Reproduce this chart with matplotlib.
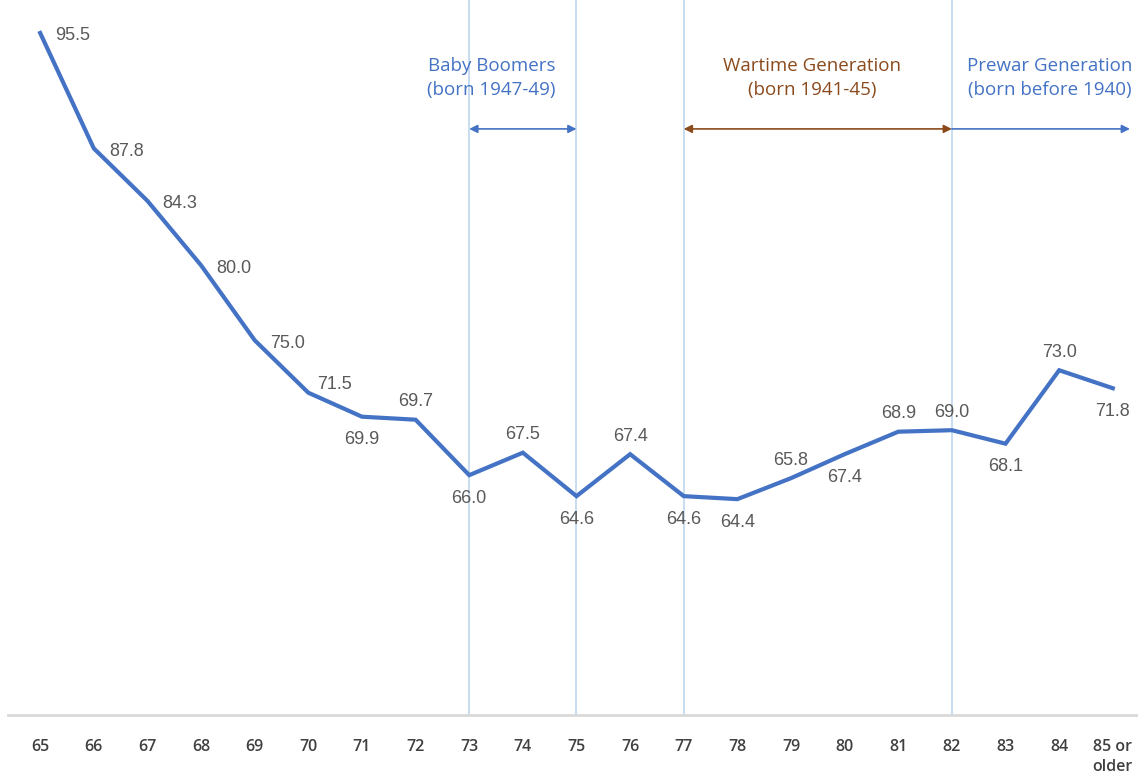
import matplotlib
matplotlib.use("Agg")
import matplotlib.pyplot as plt

categories = ["65", "66", "67", "68", "69", "70", "71", "72", "73", "74", "75",
              "76", "77", "78", "79", "80", "81", "82", "83", "84", "85 or\nolder"]
values = [95.5, 87.8, 84.3, 80.0, 75.0, 71.5, 69.9, 69.7, 66.0, 67.5, 64.6,
          67.4, 64.6, 64.4, 65.8, 67.4, 68.9, 69.0, 68.1, 73.0, 71.8]
# label placement: 'r' right, 'ra' right-above, 'a' above, 'b' below
label_pos = ["r", "r", "r", "r", "r", "ra", "b", "a", "b", "a", "b",
             "a", "b", "b", "a", "b", "a", "a", "b", "a", "b"]
divider_idx = [8, 10, 12, 17]

LINE = "#4472C4"
BROWN = "#8B4A1C"
LIGHT = "#BDD7EE"
TXT = "#595959"

fig = plt.figure(figsize=(11.38, 7.77), dpi=100)
ax = fig.add_axes([8 / 1138, 1 - 715 / 777, 1 - 8 / 1138, 715 / 777])
x = list(range(len(categories)))
ax.set_xlim(-0.6, 20.47)
ax.set_ylim(50, 97.7)

for d in divider_idx:
    ax.axvline(d, color=LIGHT, lw=1.2, zorder=1)

ax.plot(x, values, color=LINE, lw=3, zorder=3, solid_joinstyle="miter")

lab_kw = dict(textcoords="offset points", fontsize=13, color=TXT,
              family="Liberation Sans", va="center")
offsets = {"r": ((11, -2), "left"), "ra": ((6, 6), "left"),
           "a": ((0, 13), "center"), "b": ((0, -16.5), "center")}
for xi, v, p in zip(x, values, label_pos):
    off, ha = offsets[p]
    ax.annotate(f"{v:.1f}", (xi, v), xytext=off, ha=ha, **lab_kw)

arrow_y = 89.1
ax.annotate("", xy=(8, arrow_y), xytext=(10, arrow_y),
            arrowprops=dict(arrowstyle="<|-|>", color=LINE, lw=1.2, mutation_scale=12,
                            shrinkA=0, shrinkB=0))
ax.annotate("", xy=(12, arrow_y), xytext=(17, arrow_y),
            arrowprops=dict(arrowstyle="<|-|>", color=BROWN, lw=1.2, mutation_scale=12,
                            shrinkA=0, shrinkB=0))
ax.annotate("", xy=(20.32, arrow_y), xytext=(17, arrow_y),
            arrowprops=dict(arrowstyle="-|>", color=LINE, lw=1.2, mutation_scale=12,
                            shrinkA=0, shrinkB=0))

ann_kw = dict(ha="center", va="center", fontsize=13.5, family="Open Sans", linespacing=1.4)
ax.text(8.42, 92.5, "Baby Boomers\n(born 1947-49)", color=LINE, **ann_kw)
ax.text(14.4, 92.5, "Wartime Generation\n(born 1941-45)", color=BROWN, **ann_kw)
ax.text(18.83, 92.5, "Prewar Generation\n(born before 1940)", color=LINE, **ann_kw)

ax.set_xticks(x)
ax.set_xticklabels(categories, fontsize=11.5, color="#404040", family="Open Sans",
                   fontweight="semibold", linespacing=1.35)
ax.tick_params(axis="x", length=0, pad=17)
ax.set_yticks([])
for s in ["top", "right", "left"]:
    ax.spines[s].set_visible(False)
ax.spines["bottom"].set_color("#D9D9D9")
ax.spines["bottom"].set_linewidth(2)

fig.savefig("out.png", dpi=100)
